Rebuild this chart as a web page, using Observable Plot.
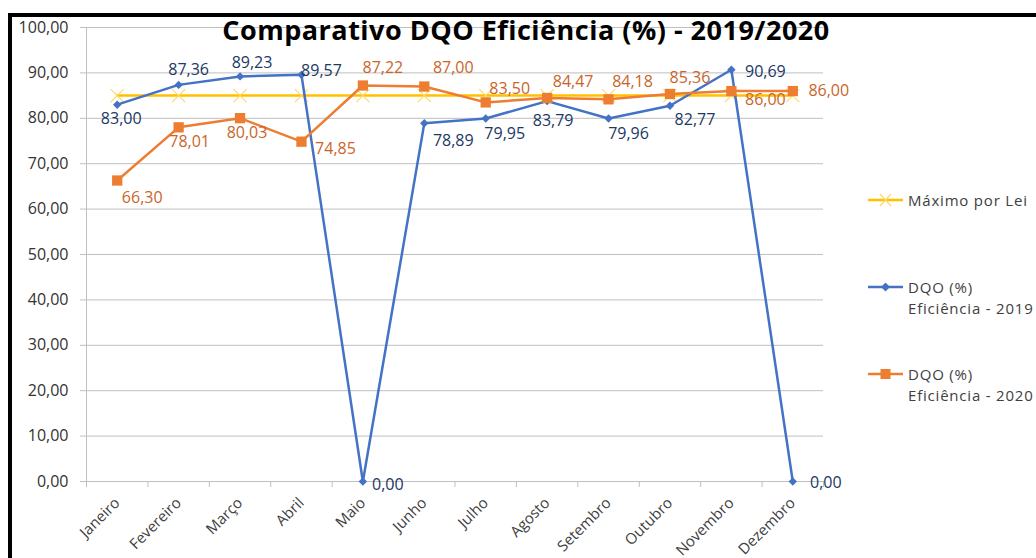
<!DOCTYPE html>
<html><head><meta charset="utf-8">
<script src="https://cdn.jsdelivr.net/npm/d3@7"></script>
<script src="https://cdn.jsdelivr.net/npm/@observablehq/plot@0.6"></script>
<style>
html,body{margin:0;padding:0;background:#fff;overflow:hidden;}
#wrap{position:relative;width:1036px;height:558px;overflow:hidden;font-family:"Open Sans",sans-serif;}
#chart{position:absolute;left:0;top:0;}
#frame{position:absolute;left:8px;top:13px;width:1100px;height:600px;border-top:4px solid #000;border-left:4px solid #000;pointer-events:none;}
#title{position:absolute;left:526px;top:19px;transform:translateX(-50%);white-space:nowrap;font-weight:700;font-size:27px;line-height:22px;letter-spacing:0.5px;color:#000;}
.leg{position:absolute;left:868px;}
.leg svg{position:absolute;left:0;top:0;overflow:visible;}
.leg .t{position:absolute;left:40px;top:0;white-space:nowrap;font-size:15px;line-height:20.5px;letter-spacing:0.8px;color:#404040;}
</style>
</head><body>
<div id="wrap">
  <div id="chart"></div>
  <div id="frame"></div>
  <div id="title"></div>
  <div id="legend"></div>
</div>
<script>
const titleText = "Comparativo DQO Eficiência (%) - 2019/2020";
const months = ["Janeiro","Fevereiro","Março","Abril","Maio","Junho","Julho","Agosto","Setembro","Outubro","Novembro","Dezembro"];
const dqo2019 = [83.00, 87.36, 89.23, 89.57, 0.00, 78.89, 79.95, 83.79, 79.96, 82.77, 90.69, 0.00];
const dqo2020 = [66.30, 78.01, 80.03, 74.85, 87.22, 87.00, 83.50, 84.47, 84.18, 85.36, 86.00, 86.00];
const maximoLei = [85, 85, 85, 85, 85, 85, 85, 85, 85, 85, 85, 85];
const yTicks = [0, 10, 20, 30, 40, 50, 60, 70, 80, 90, 100];
const seriesNames = ["Máximo por Lei", "DQO (%)\nEficiência - 2019", "DQO (%)\nEficiência - 2020"];

// label placement (pixel offsets from each point) — styling, not data
const off2019 = [[4,14],[10,-15],[12,-14],[20,-4],[25,3],[29,18],[19,15],[6,20],[20,15],[25,14],[34,2],[33,1]];
const off2020 = [[25,17],[11,15],[7,15],[34,7],[20,-18],[29,-19],[24,-14],[26,-16],[24,-17],[20,-16],[34,9],[36,0]];

const BLUE = "#4472C4", ORANGE = "#ED7D31", YELLOW = "#FFC000";
const BLUE_LBL = "#203864", ORANGE_LBL = "#C9652A";
const fmt = v => v.toFixed(2).replace(".", ",");

const rows = months.map((m, i) => ({m, x: i + 0.5, v19: dqo2019[i], v20: dqo2020[i], lei: maximoLei[i]}));

const labelMarks = [];
rows.forEach((r, i) => {
  labelMarks.push(Plot.text([r], {x: "x", y: "v19", text: d => fmt(d.v19), dx: off2019[i][0], dy: off2019[i][1], fill: BLUE_LBL, fontSize: 16}));
  labelMarks.push(Plot.text([r], {x: "x", y: "v20", text: d => fmt(d.v20), dx: off2020[i][0], dy: off2020[i][1], fill: ORANGE_LBL, fontSize: 16}));
});

const chart = Plot.plot({
  width: 1036,
  height: 558,
  marginLeft: 86,
  marginRight: 213,
  marginTop: 27,
  marginBottom: 77,
  style: {fontFamily: "'Open Sans', sans-serif", fontSize: "15px", background: "transparent"},
  x: {type: "linear", domain: [0, 12]},
  y: {domain: [0, 100]},
  marks: [
    Plot.gridY(yTicks, {stroke: "#bfbfbf", strokeOpacity: 1, strokeWidth: 1}),
    Plot.ruleX([0], {stroke: "#bfbfbf", strokeWidth: 1}),
    Plot.axisY(yTicks, {tickSize: 6, tickPadding: 12, tickFormat: fmt, stroke: "#bfbfbf", fill: "#333333", fontSize: 16, label: null}),
    Plot.axisX(d3.range(13), {tickSize: 6, tickFormat: () => "", stroke: "#bfbfbf", label: null}),
    Plot.text(rows, {x: "x", y: () => 0, text: "m", rotate: -45, textAnchor: "end", dx: 0, dy: 19, fill: "#404040", fontSize: 15}),
    Plot.line(rows, {x: "x", y: "lei", stroke: YELLOW, strokeWidth: 2.5}),
    Plot.dot(rows, {x: "x", y: "lei", symbol: "times", r: 6, stroke: "#FFD966", strokeWidth: 1.2, fill: "none"}),
    Plot.line(rows, {x: "x", y: "v19", stroke: BLUE, strokeWidth: 2.5}),
    Plot.dot(rows, {x: "x", y: "v19", symbol: "diamond2", r: 3.8, fill: BLUE, stroke: "none"}),
    Plot.line(rows, {x: "x", y: "v20", stroke: ORANGE, strokeWidth: 2.5}),
    Plot.dot(rows, {x: "x", y: "v20", symbol: "square", r: 5.8, fill: ORANGE, stroke: "none"}),
    ...labelMarks
  ]
});
document.getElementById("chart").appendChild(chart);
document.getElementById("title").textContent = titleText;

// legend
const legendItems = [
  {name: seriesNames[0], color: YELLOW, sym: "times", cy: 200},
  {name: seriesNames[1], color: BLUE, sym: "diamond", cy: 287},
  {name: seriesNames[2], color: ORANGE, sym: "square", cy: 374}
];
const legend = document.getElementById("legend");
legendItems.forEach(it => {
  const div = document.createElement("div");
  div.className = "leg";
  div.style.top = (it.cy - 10) + "px";
  const svg = d3.create("svg").attr("width", 36).attr("height", 20);
  svg.append("line").attr("x1", 0).attr("x2", 35).attr("y1", 10).attr("y2", 10).attr("stroke", it.color).attr("stroke-width", 2.5);
  if (it.sym === "times") {
    svg.append("path").attr("d", "M12,4L23,16M12,16L23,4").attr("stroke", "#FFD966").attr("stroke-width", 1.2).attr("fill", "none");
  } else if (it.sym === "diamond") {
    svg.append("path").attr("d", "M17.5,5.5L22,10L17.5,14.5L13,10Z").attr("fill", it.color);
  } else {
    svg.append("rect").attr("x", 12.5).attr("y", 5).attr("width", 10).attr("height", 10).attr("fill", it.color);
  }
  div.appendChild(svg.node());
  const t = document.createElement("div");
  t.className = "t";
  t.innerHTML = it.name.split("\n").join("<br>");
  div.appendChild(t);
  legend.appendChild(div);
});
</script>
</body></html>
